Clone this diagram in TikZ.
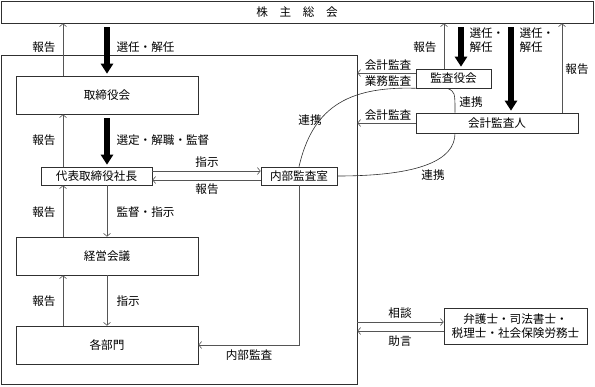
\documentclass[tikz,border=0pt]{standalone}
\usepackage{fontspec}
\setmainfont{Noto Sans CJK JP}
\usetikzlibrary{arrows.meta, calc}
\definecolor{edge}{HTML}{303030}
\definecolor{wire}{HTML}{555555}

\begin{document}
\begin{tikzpicture}[x=1pt, y=-1pt, every node/.style={font=\fontsize{11.6}{14}\selectfont},
  box/.style={draw=edge, line width=0.6pt, inner sep=0pt},
  wireline/.style={draw=wire, line width=0.6pt},
  arr/.style={wireline, -{Straight Barb[length=3pt,width=7pt]}},
  big/.style={line width=6pt, -{Triangle[length=10pt,width=12pt]}, shorten <=4pt, shorten >=2pt}]
  \useasboundingbox (0,0) rectangle (595,386);

  % Boxes
  \node[box, minimum width=592pt, minimum height=22pt] (share) at (297,12) {株　主　総　会};
  \node[box, minimum width=356pt, minimum height=329pt] (company) at (179,219.5) {};
  \node[box, minimum width=182pt, minimum height=38pt] (board) at (107,95) {取締役会};
  \node[box, minimum width=111pt, minimum height=18pt] (president) at (96.5,176) {代表取締役社長};
  \node[box, minimum width=182pt, minimum height=38pt] (mgmt) at (107,256) {経営会議};
  \node[box, minimum width=182pt, minimum height=38pt] (depts) at (107,345) {各部門};
  \node[box, minimum width=76pt, minimum height=18pt] (audit) at (299,176) {内部監査室};
  \node[box, minimum width=75pt, minimum height=19pt] (kansa) at (453.5,78.5) {監査役会};
  \node[box, minimum width=162pt, minimum height=20pt] (auditor) at (497,123) {会計監査人};
  \node[box, minimum width=143pt, minimum height=36pt, align=center] (experts) at (515.5,326)
    {弁護士・司法書士・\\税理士・社会保険労務士};

  % Columns
  \coordinate (cL) at (63,0);
  \coordinate (cR) at (107,0);
  \coordinate (kRep) at (444,0);
  \coordinate (kSel) at (461,0);
  \coordinate (aSel) at (511,0);
  \coordinate (aRep) at (562,0);

  % Left chain
  \draw[arr] (board.north -| cL) -- (share.south -| cL);
  \draw[big] (share.south -| cR) -- (board.north -| cR);
  \draw[arr] (president.north -| cL) -- (board.south -| cL);
  \draw[big] (board.south -| cR) -- (president.north -| cR);
  \draw[arr] (mgmt.north -| cL) -- (president.south -| cL);
  \draw[arr] (president.south -| cR) -- (mgmt.north -| cR);
  \draw[arr] (depts.north -| cL) -- (mgmt.south -| cL);
  \draw[arr] (mgmt.south -| cR) -- (depts.north -| cR);

  \node[anchor=east] (rep1) at (59,47) {報告};
  \node[anchor=west] (sel1) at (113,47) {選任・解任};
  \node[anchor=east] (rep2) at (59,140) {報告};
  \node[anchor=west] (sel2) at (113,140) {選定・解職・監督};
  \node[anchor=east] (rep3) at (59,212) {報告};
  \node[anchor=west] (ins1) at (113,212) {監督・指示};
  \node[anchor=east] (rep4) at (59,301) {報告};
  \node[anchor=west] (ins2) at (113,301) {指示};

  % President <-> internal audit
  \coordinate (pUp) at ([yshift=5pt]president.east);
  \coordinate (pDn) at ([yshift=-4pt]president.east);
  \draw[arr] (pUp) -- (pUp -| audit.west);
  \draw[arr] (pDn -| audit.west) -- (pDn);
  \node (ins3) at (207,162) {指示};
  \node (rep5) at (207,189) {報告};

  \draw[arr] (audit.south) |- (depts.east);
  \node (iaud) at (249,355) {内部監査};

  % Auditors
  \draw[arr] (kansa.north -| kRep) -- (share.south -| kRep);
  \draw[big] (share.south -| kSel) -- (kansa.north -| kSel);
  \draw[big] (share.south -| aSel) -- (auditor.north -| aSel);
  \draw[arr] (auditor.north -| aRep) -- (share.south -| aRep);
  \node[anchor=east] (rep6) at (440,47) {報告};
  \node[anchor=west, align=left] (sel3) at (466,40) {選任・\\解任};
  \node[anchor=west, align=left] (sel4) at (516,40) {選任・\\解任};
  \node (rep7) at (577,69) {報告};

  \coordinate (kOut) at ([yshift=5.5pt]kansa.west);
  \draw[arr] (kOut) -- (kOut -| company.east);
  \draw[arr] (auditor.west) -- (auditor.west -| company.east);
  \node (acc1) at (388,65) {会計監査};
  \node (biz1) at (388,81) {業務監査};
  \node (acc2) at (388,115) {会計監査};

  % Links
  \coordinate (kLink) at ([xshift=-6pt]kansa.south);
  \coordinate (aLinkT) at ([xshift=-42pt]auditor.north);
  \coordinate (aLinkB) at ([xshift=-42pt]auditor.south);
  \draw[edge, line width=0.6pt] (audit.north) .. controls (312,110) and (345,86) .. (kansa.south west);
  \draw[edge, line width=0.6pt] (kLink) .. controls (455,92) .. (aLinkT);
  \draw[edge, line width=0.6pt] (audit.east) .. controls (420,176) and (455,160) .. (aLinkB);
  \node (lnk1) at (310,120) {連携};
  \node (lnk2) at (471,102) {連携};
  \node (lnk3) at (433,175) {連携};

  % Outside experts
  \coordinate (sodan) at ([yshift=4pt]experts.west);
  \coordinate (jogen) at ([yshift=-5pt]experts.west);
  \draw[arr] (sodan -| company.east) -- (sodan);
  \draw[arr] (jogen) -- (jogen -| company.east);
  \node (con) at (400,313) {相談};
  \node (adv) at (400,341) {助言};
\end{tikzpicture}
\end{document}
